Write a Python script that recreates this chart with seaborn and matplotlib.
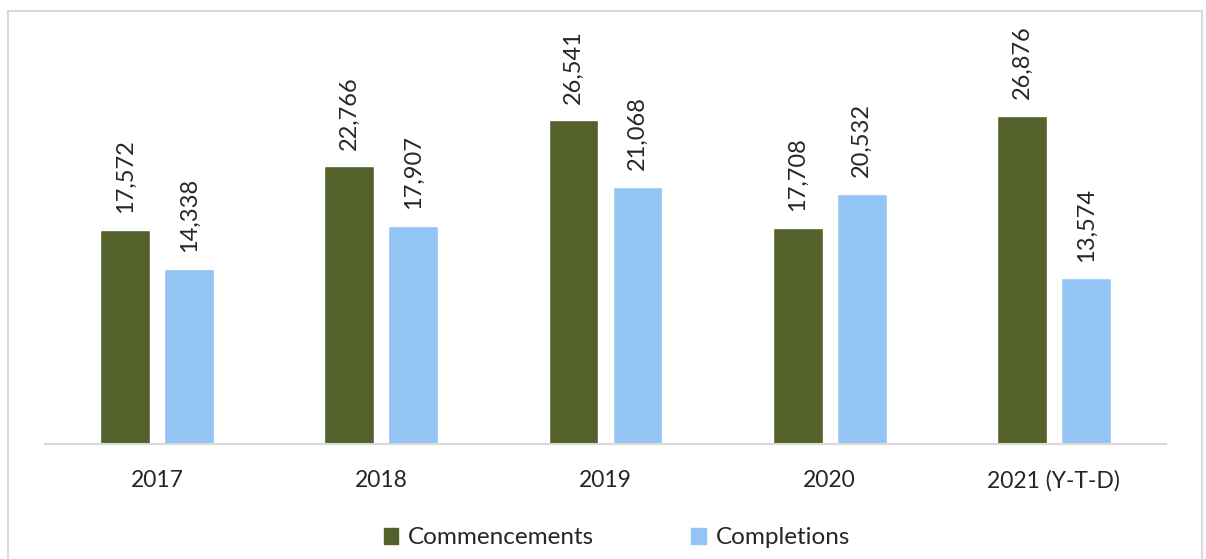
import matplotlib
matplotlib.use("Agg")
import matplotlib.pyplot as plt
import seaborn as sns
import pandas as pd
from matplotlib.patches import Rectangle

years = ["2017", "2018", "2019", "2020", "2021 (Y-T-D)"]
commencements = [17572, 22766, 26541, 17708, 26876]
completions = [14338, 17907, 21068, 20532, 13574]
series = ["Commencements", "Completions"]
colors = ["#53622A", "#93C4F4"]

df = pd.DataFrame({
    "year": years * 2,
    "value": commencements + completions,
    "series": [series[0]] * len(years) + [series[1]] * len(years),
})

sns.set_theme(style="white")
plt.rcParams["font.family"] = ["Lato", "DejaVu Sans"]

fig = plt.figure(figsize=(12.06, 5.59), dpi=100)
ax = fig.add_axes([45 / 1206, 1 - 444 / 559, 1121 / 1206, 427 / 559])

sns.barplot(data=df, x="year", y="value", hue="series", palette=colors,
            width=0.571, gap=0.22, ax=ax, legend=False, saturation=1)

ax.set_ylim(0, 35000)
ax.set_xlim(-0.5, len(years) - 0.5)
ax.set_xlabel("")
ax.set_ylabel("")
ax.set_yticks([])
for s in ["top", "right", "left"]:
    ax.spines[s].set_visible(False)
ax.spines["bottom"].set_color("#D9D9D9")
ax.spines["bottom"].set_linewidth(1.5)
ax.tick_params(axis="x", length=0, pad=19, labelsize=16.5)

for cont in ax.containers:
    labels = [f"{int(v):,}" for v in cont.datavalues]
    ax.bar_label(cont, labels=labels, rotation=90, padding=12, fontsize=17)

handles = [Rectangle((0, 0), 1, 1, color=c) for c in colors]
fig.legend(handles, series, loc="center", bbox_to_anchor=(617 / 1206, 1 - 538 / 559),
           ncol=2, frameon=False, fontsize=17.5, handlelength=0.6, handleheight=0.6,
           handletextpad=0.4, columnspacing=4.0)

fig.patches.append(Rectangle((8 / 1206, -0.05), 1194 / 1206, 1.05 - 11 / 559,
                             transform=fig.transFigure, fill=False,
                             edgecolor="#D9D9D9", linewidth=1.5))

fig.savefig("out.png", dpi=100)
